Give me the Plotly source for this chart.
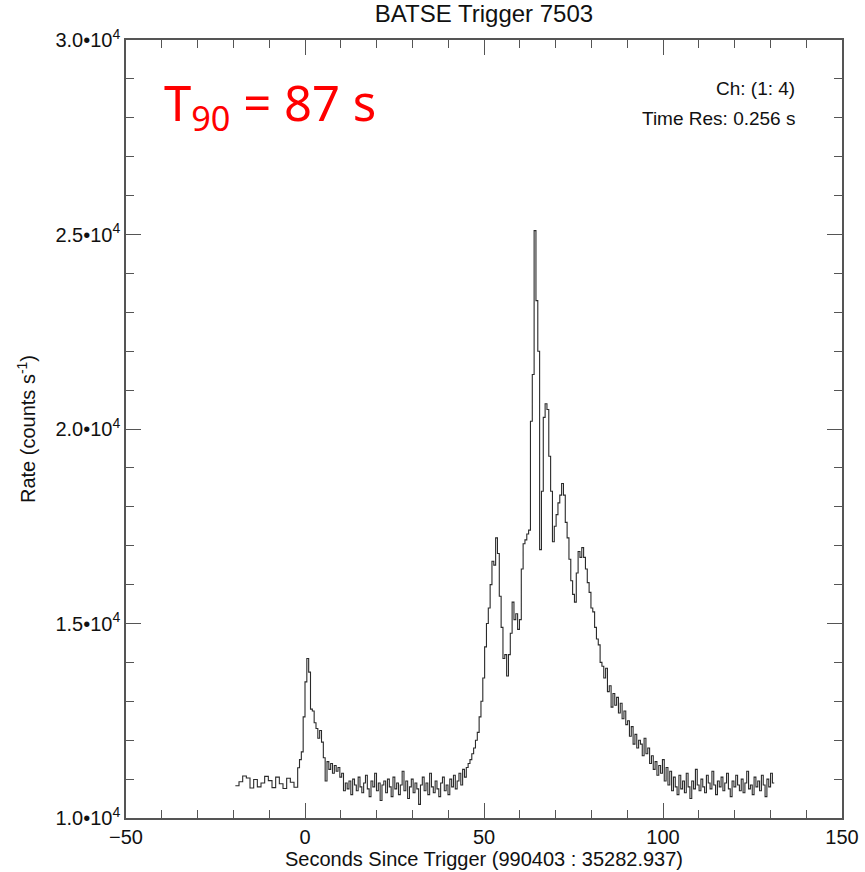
import plotly.graph_objects as go

# BATSE trigger 7503 light curve, channels 1-4
# Pre-trigger coarse bins (1.024 s) followed by finer bins (0.512 s)
pre_start = -19.456
pre_width = 1.024
pre_rates = [10830, 10930, 11080, 11030, 10770, 10990, 10800, 10900, 11070,
             10960, 10780, 11050, 10880, 10760, 11020, 10920, 10790]

fine_start = -2.048
fine_width = 0.512
fine_rates = [
    11290, 11500, 11700, 12600, 13500, 14100, 13750, 12800, 12750, 12450,
    12300, 12050, 12250, 11950, 11550, 10950, 11450, 11250, 11400, 11150,
    11350, 11200, 11300, 11050, 11150, 10700, 10900,
    10750, 10950, 10600, 11000, 10850, 10700, 11050, 10800, 10650, 10900,
    11100, 10750, 10550, 10950, 10800, 11150, 10700, 10900, 10450, 10850,
    10950, 10650, 11000, 10800, 10550, 11050, 10750, 10900, 10600, 10850,
    11200, 10700, 10950, 10500, 10800, 11000, 10650, 10900, 10750, 10350,
    10850, 11050, 10700, 10900, 10600, 11150, 10800, 10650, 10950, 10750,
    10550, 10900, 11050, 10700, 10850, 10600, 11000, 10800, 11100, 10750,
    10950, 11150, 10850, 11250, 11050, 11300, 11400, 11500, 11650, 11800,
    12000, 12200, 12600, 13000, 13600, 14400, 15000, 15400, 16000, 16600,
    16500, 17200, 16800, 15700, 14900, 14100, 14200, 13650, 14200, 14750,
    15550, 15100, 15250, 14850, 15100, 16400, 17050, 17150, 17300, 17400,
    20200, 21400, 25100, 23300, 22000, 16900, 18400, 20300, 20650, 20500,
    19300, 18400, 17100, 17500, 17800, 18100, 18300, 18600, 18300, 17600,
    17200, 16650, 16100, 15750, 15550, 16300, 16850, 16700, 16950, 16700,
    16400, 16050, 15800, 15400, 15300, 14900, 14600, 14450, 14000, 13900,
    13600, 13850, 13250, 13400, 12850, 13200, 12900, 13100, 12700, 12950,
    12550, 12750, 12400, 12500, 12100, 12350, 11900, 12150, 11800, 12000,
    11900, 11600, 12050, 11650, 11800, 11400, 11600, 11250, 11450, 11100,
    11350, 11150, 11500, 10950, 11300,
    10850, 11200, 10700, 11050, 10800, 10600, 11100, 10750, 10950, 10650,
    11150, 10800, 10500, 10950, 10750, 11250, 10850, 10700, 11000, 10800,
    10650, 11100, 10900, 10750, 11200, 10850, 10600, 10950, 10800, 11050,
    10700, 10900, 11150, 10750, 10550, 10950, 10800, 11100, 10850, 10700,
    11000, 10650, 10900, 11200, 10750, 10850, 10600, 11050, 10800, 10950,
    10700, 11100, 10850, 10550, 11000, 10800, 11150, 10900,
]

y_tick_vals = [10000, 15000, 20000, 25000, 30000]
y_tick_text = ["1.0\u202210<sup>4</sup>", "1.5\u202210<sup>4</sup>",
               "2.0\u202210<sup>4</sup>", "2.5\u202210<sup>4</sup>",
               "3.0\u202210<sup>4</sup>"]
x_tick_vals = [-50, 0, 50, 100, 150]

# bin edges and step values
times = [pre_start + pre_width * i for i in range(len(pre_rates))]
times += [fine_start + fine_width * i for i in range(len(fine_rates))]
rates = pre_rates + fine_rates
times.append(fine_start + fine_width * len(fine_rates))
rates.append(fine_rates[-1])

FONT = "Liberation Sans, Arial, Helvetica, sans-serif"
AX = "#555555"
TXT = "#111111"

fig = go.Figure()
fig.add_trace(go.Scatter(
    x=times, y=rates, mode="lines", line_shape="hv",
    line=dict(color="#2a2a2a", width=1.1), hoverinfo="skip", showlegend=False,
))

common = dict(
    showgrid=False, zeroline=False, showline=True, linecolor=AX, linewidth=1.5,
    mirror="allticks", ticks="inside", tickcolor=AX, tickwidth=1.2, ticklen=15,
    tickfont=dict(family=FONT, size=20, color=TXT), automargin=False,
)

fig.update_xaxes(
    range=[-50, 150], tickvals=x_tick_vals,
    minor=dict(ticks="inside", dtick=10, tick0=0, ticklen=8, tickcolor=AX, tickwidth=1.2),
    title=dict(text="Seconds Since Trigger (990403 : 35282.937)",
               font=dict(family=FONT, size=20, color=TXT), standoff=2),
    **common,
)
fig.update_yaxes(
    range=[10000, 30000], tickvals=y_tick_vals, ticktext=y_tick_text,
    minor=dict(ticks="inside", dtick=1000, tick0=0, ticklen=8, tickcolor=AX, tickwidth=1.2),
    title=dict(text="Rate (counts s<sup>-1</sup>)",
               font=dict(family=FONT, size=20, color=TXT), standoff=14),
    **common,
)

fig.update_layout(
    width=865, height=872,
    margin=dict(l=126, r=23, t=40, b=54),
    paper_bgcolor="white", plot_bgcolor="white",
    title=dict(text="BATSE Trigger 7503", x=0.5, xanchor="center",
               xref="paper", y=1.0, yref="container", yanchor="top", pad=dict(t=5),
               font=dict(family=FONT, size=24, color=TXT)),
)

fig.add_annotation(
    x=0.05, y=0.916, xref="paper", yref="paper", xanchor="left", yanchor="middle",
    text="T<sub>90</sub> = 87 s", showarrow=False,
    font=dict(family="Comic Sans MS, Noto Sans, sans-serif", size=49, color="#ff0000"),
)
fig.add_annotation(
    x=0.937, y=0.938, xref="paper", yref="paper", xanchor="right", yanchor="middle",
    text="Ch: (1: 4)", showarrow=False,
    font=dict(family=FONT, size=19, color=TXT),
)
fig.add_annotation(
    x=0.937, y=0.899, xref="paper", yref="paper", xanchor="right", yanchor="middle",
    text="Time Res: 0.256 s", showarrow=False,
    font=dict(family=FONT, size=19, color=TXT),
)

fig.write_html("out.html")
